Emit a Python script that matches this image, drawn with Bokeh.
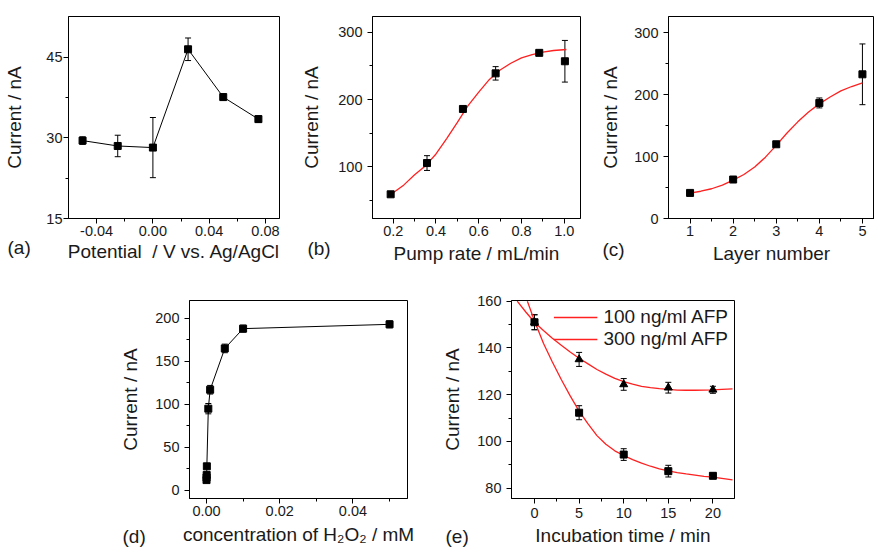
import numpy as np
from bokeh.plotting import figure
from bokeh.core.properties import value
from bokeh.models import (ColumnDataSource, Whisker, TeeHead, FixedTicker, Range1d,
                          Legend, LegendItem, Spacer, NumeralTickFormatter)
from bokeh.layouts import row, column
from bokeh.embed import file_html
from bokeh.resources import INLINE

FONT = "Liberation Sans"
INK = "#1a1a1a"
RED = "#ff2020"

# ---------------- data ----------------
# (a) potential
a_x = [-0.05, -0.025, 0.0, 0.025, 0.05, 0.075]
a_y = [29.5, 28.5, 28.2, 46.5, 37.6, 33.5]
a_err = [0.7, 2.0, 5.6, 2.1, 0.6, 0.6]
a_xticks = [-0.04, 0.0, 0.04, 0.08]
a_xminor = [-0.02, 0.02, 0.06]
a_yticks = [15, 30, 45]
a_yminor = [22.5, 37.5]

# (b) pump rate
b_x = [0.188, 0.358, 0.526, 0.679, 0.883, 1.003]
b_y = [59, 105.5, 186, 239, 269.5, 257]
b_err = [3, 11, 2.5, 10, 3, 31]
b_fit_x = [0.19, 0.25, 0.30, 0.35, 0.40, 0.45, 0.50, 0.55, 0.60, 0.65, 0.70, 0.75, 0.80, 0.85, 0.90, 0.95, 1.01]
b_fit_y = [59, 73, 88, 101, 119, 142, 166, 191, 211, 230, 244, 254, 262, 267, 270.5, 273, 274.5]
b_xticks = [0.2, 0.4, 0.6, 0.8, 1.0]
b_xminor = [0.3, 0.5, 0.7, 0.9]
b_yticks = [100, 200, 300]
b_yminor = [50, 150, 250]

# (c) layer number
c_x = [1, 2, 3, 4, 5]
c_y = [41.3, 62.9, 119.8, 186.5, 232.7]
c_err = [3, 3, 3, 8, 49]
c_fit_x = [1, 1.25, 1.5, 1.75, 2, 2.25, 2.5, 2.75, 3, 3.25, 3.5, 3.75, 4, 4.25, 4.5, 4.75, 5]
c_fit_y = [41, 44, 48, 54, 62, 71, 83, 99, 118, 138, 156, 172, 185, 196, 206, 213, 219]
c_xticks = [1, 2, 3, 4, 5]
c_xminor = [1.5, 2.5, 3.5, 4.5]
c_yticks = [0, 100, 200, 300]
c_yminor = [50, 150, 250]

# (d) H2O2 concentration
d_x = [0.00001, 0.00002, 0.00005, 0.0001, 0.0005, 0.001, 0.005, 0.01, 0.05]
d_y = [12, 15, 18, 28, 95, 117, 165, 188, 193]
d_err = [2, 2, 2, 3, 6, 5, 5, 4, 4]
d_xticks = [0.0, 0.02, 0.04]
d_xminor = [0.01, 0.03, 0.05]
d_yticks = [0, 50, 100, 150, 200]
d_yminor = [25, 75, 125, 175]

# (e) incubation time
e_t = [0, 5, 10, 15, 20]
e_100 = [151, 135.1, 124.4, 123, 122.1]
e_100_err = [3.2, 3, 2.5, 2.3, 1.5]
e_300 = [151, 112.3, 94.4, 87.3, 85.3]
e_300_err = [3.2, 3, 2.5, 2.5, 1.2]
e_fit100_x = [-1.94, -1, 0, 1, 2, 3, 4, 5, 6, 7, 8, 9, 10, 11, 12, 13, 14, 15, 16, 17, 18, 19, 20, 21, 22.2]
e_fit100_y = [160, 155.5, 151, 147.5, 144.2, 141.2, 138.3, 135.6, 133.2, 130.8, 128.8, 127, 125.6, 124.5,
              123.6, 123, 122.6, 122.3, 122, 121.9, 121.9, 122, 122.1, 122.3, 122.5]
e_fit300_x = [-0.8, 0, 1, 2, 3, 4, 5, 6, 7, 8, 9, 10, 11, 12, 13, 14, 15, 16, 17, 18, 19, 20, 21, 22.2]
e_fit300_y = [160, 151.5, 142, 134, 126.5, 119.5, 113, 107.5, 102.5, 98.8, 96, 94, 92.2, 90.7, 89.4,
              88.3, 87.4, 86.7, 86.1, 85.6, 85.1, 84.7, 84.2, 83.6]
e_xticks = [0, 5, 10, 15, 20]
e_xminor = [2.5, 7.5, 12.5, 17.5]
e_yticks = [80, 100, 120, 140, 160]
e_yminor = [90, 110, 130, 150]
e_labels = ["100 ng/ml AFP", "300 ng/ml AFP"]


# ---------------- helpers ----------------
class Panel:
    def __init__(self, width, height, xr, yr, bl, br, bt, bb, xt, xm, yt, ym, xfmt, xlabel,
                 xs_tick, xs_lab, ys_tick, ys_lab):
        self.xr, self.yr = xr, yr
        self.fl, self.ft = bl, bt
        self.fw, self.fh = width - bl - br, height - bt - bb
        p = figure(width=width, height=height, x_range=Range1d(*xr), y_range=Range1d(*yr),
                   output_backend="svg", toolbar_location=None,
                   min_border_left=bl, min_border_right=br, min_border_top=bt, min_border_bottom=bb)
        p.xgrid.visible = False
        p.ygrid.visible = False
        p.outline_line_color = "black"
        p.outline_line_width = 1
        p.outline_line_alpha = 1
        p.background_fill_color = "white"
        p.border_fill_color = "white"
        p.xaxis[0].ticker = FixedTicker(ticks=xt, minor_ticks=xm)
        p.yaxis[0].ticker = FixedTicker(ticks=yt, minor_ticks=ym)
        p.xaxis[0].formatter = NumeralTickFormatter(format=xfmt)
        p.yaxis[0].formatter = NumeralTickFormatter(format="0")
        for ax in (p.xaxis[0], p.yaxis[0]):
            ax.axis_line_color = "black"
            ax.axis_line_width = 1
            ax.major_tick_in = 0
            ax.major_tick_out = 5
            ax.minor_tick_in = 0
            ax.minor_tick_out = 3
            ax.major_tick_line_color = "black"
            ax.minor_tick_line_color = "black"
            ax.major_label_text_font = FONT
            ax.major_label_text_font_size = "14.5px"
            ax.major_label_text_color = INK
            ax.axis_label_text_font = FONT
            ax.axis_label_text_font_size = "19px"
            ax.axis_label_text_font_style = "normal"
            ax.axis_label_text_color = INK
        p.xaxis[0].major_label_standoff = xs_tick
        p.xaxis[0].axis_label_standoff = xs_lab
        p.yaxis[0].major_label_standoff = ys_tick
        p.yaxis[0].axis_label_standoff = ys_lab
        p.xaxis[0].axis_label = xlabel
        p.yaxis[0].axis_label = "Current / nA"
        self.p = p

    def points(self, x, y, err, marker="square", size=7):
        y = np.asarray(y, dtype=float)
        err = np.asarray(err, dtype=float)
        src = ColumnDataSource(dict(x=list(x), y=list(y), lo=list(y - err), hi=list(y + err)))
        w = Whisker(source=src, base="x", lower="lo", upper="hi", line_color="black", line_width=1,
                    upper_head=TeeHead(size=6, line_color="black", line_width=1),
                    lower_head=TeeHead(size=6, line_color="black", line_width=1))
        self.p.add_layout(w)
        self.p.scatter("x", "y", source=src, marker=marker, size=size, color="black")

    def tag(self, text, page_x, page_y, fig_left, fig_top):
        # panel letter placed by pixel offset from the frame (layout, not data)
        dx = page_x - fig_left - self.fl
        dy = page_y - fig_top - self.ft
        x = self.xr[0] + dx / self.fw * (self.xr[1] - self.xr[0])
        y = self.yr[1] - dy / self.fh * (self.yr[1] - self.yr[0])
        self.p.text(x=[x], y=[y], text=[text], text_font=value(FONT), text_font_size="19px",
                    text_color=INK, text_baseline="middle", text_align="left", level="annotation")


# ---------------- row 1 ----------------
A = Panel(298, 270, (-0.06, 0.09), (15, 52.6), 68, 19, 13, 52,
          a_xticks, a_xminor, a_yticks, a_yminor, "0.00", "Potential\u00a0 / V vs. Ag/AgCl", 2, 2, 1, 18)
A.p.line(a_x, a_y, color="black", line_width=1)
A.points(a_x, a_y, a_err)
A.tag("(a)", 7, 247, 0, 0)

B = Panel(290, 270, (0.103, 1.076), (23, 323.6), 71, 8, 13, 52,
          b_xticks, b_xminor, b_yticks, b_yminor, "0.0", "Pump rate / mL/min", 2, 4, 5, 13)
B.p.line(b_fit_x, b_fit_y, color=RED, line_width=1.3)
B.points(b_x, b_y, b_err)
B.tag("(b)", 303, 248, 298, 0)

C = Panel(286, 270, (0.5, 5.28), (0, 326), 80, 0, 16, 52,
          c_xticks, c_xminor, c_yticks, c_yminor, "0", "Layer number", 2, 4, 5, 10)
C.p.line(c_fit_x, c_fit_y, color=RED, line_width=1.3)
C.points(c_x, c_y, c_err)
C.tag("(c)", 602, 249, 588, 0)

# ---------------- row 2 ----------------
D = Panel(330, 280, (-0.00464, 0.0549), (-9.4, 220.7), 81, 31, 26, 51,
          d_xticks, d_xminor, d_yticks, d_yminor, "0.00", "concentration of H\u2082O\u2082 / mM", 2, 5, 5, 11)
D.p.line(d_x, d_y, color="black", line_width=1)
D.points(d_x, d_y, d_err)
D.tag("(d)", 122, 538, 108, 270)

E = Panel(306, 280, (-2.58, 22.42), (75.6, 160.3), 73, 10, 30, 52,
          e_xticks, e_xminor, e_yticks, e_yminor, "0", "Incubation time / min", 4, 4, 5, 11)
l100 = E.p.line(e_fit100_x, e_fit100_y, color=RED, line_width=1.3)
l300 = E.p.line(e_fit300_x, e_fit300_y, color=RED, line_width=1.3)
E.points(e_t, e_300, e_300_err, marker="square", size=7)
E.points(e_t, e_100, e_100_err, marker="triangle", size=8)
legend = Legend(items=[LegendItem(label=e_labels[0], renderers=[l100]),
                       LegendItem(label=e_labels[1], renderers=[l300])],
                location="top_right", border_line_alpha=0, background_fill_alpha=0,
                glyph_width=44, label_standoff=6, spacing=0, padding=2, margin=4,
                label_text_font=FONT, label_text_font_size="19px", label_text_color=INK)
E.p.add_layout(legend)
E.tag("(e)", 445, 536, 438, 270)

layout = column(row(A.p, B.p, C.p), row(Spacer(width=108, height=280), D.p, E.p))
open("out.html", "w").write(file_html(layout, INLINE))
